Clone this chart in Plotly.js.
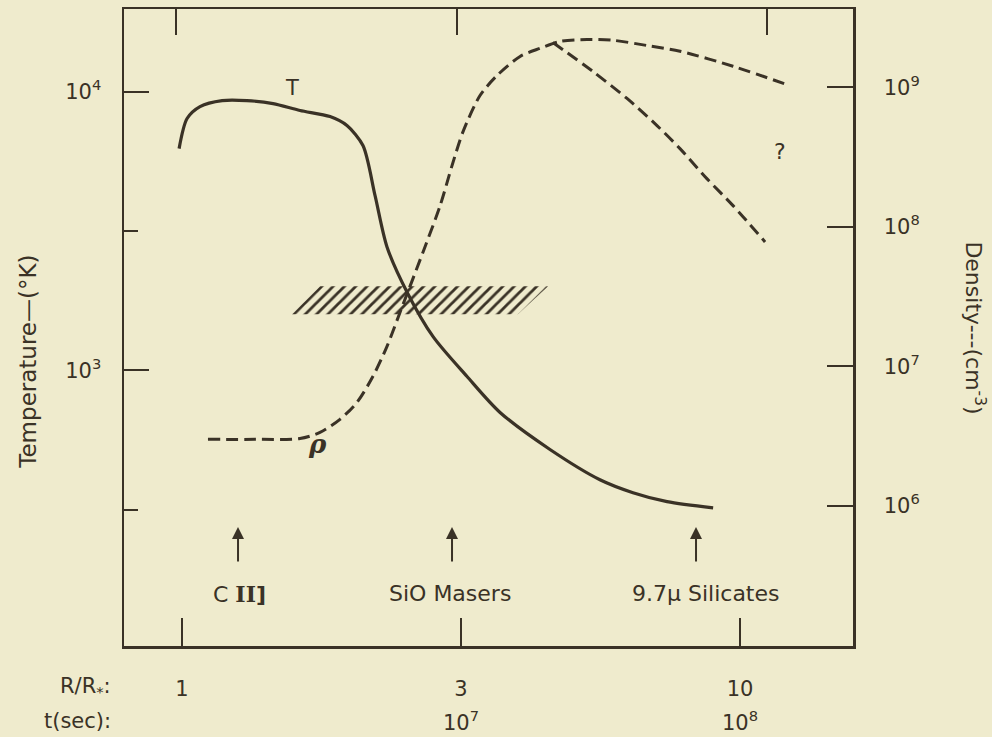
<!DOCTYPE html>
<html>
<head>
<meta charset="utf-8">
<script src="https://cdn.plot.ly/plotly-3.0.1.min.js"></script>
<style>
  html, body { margin: 0; padding: 0; background: #efebcd; }
  #chart { width: 992px; height: 737px; }
</style>
</head>
<body>
<div id="chart"></div>
<script>
// ---- Temperature curve T(R) (solid) ----
const tempR = [0.988, 1.021, 1.077, 1.18, 1.307, 1.456, 1.627, 1.842, 1.975, 2.11, 2.218, 2.33, 2.53, 2.818, 3.242, 3.715, 4.565, 5.61, 6.43, 7.40, 8.95];
const tempT = [6240, 8000, 8830, 9280, 9280, 9050, 8550, 8130, 7550, 6400, 4230, 2770, 1910, 1320, 950, 706, 520, 405, 364, 338, 321];

// ---- Density curve rho(R) (dashed), upper branch ----
const densR = [1.113, 1.352, 1.627, 1.767, 1.919, 2.059, 2.199, 2.33, 2.459, 2.704, 2.901, 3.047, 3.189, 3.42, 3.67, 4.035, 4.381, 4.758, 5.319, 5.922, 6.813, 7.806, 9.716, 12.29];
const densN = [2.99e6, 2.99e6, 3.03e6, 3.35e6, 4.16e6, 5.51e6, 8.47e6, 1.39e7, 2.44e7, 6.61e7, 1.42e8, 2.75e8, 4.82e8, 8.75e8, 1.22e9, 1.67e9, 1.91e9, 2.14e9, 2.21e9, 2.18e9, 2.00e9, 1.82e9, 1.42e9, 1.03e9];

// ---- Density, lower ("?") branch ----
const densLowR = [4.62, 5.453, 6.273, 7.1, 7.806, 8.73, 9.716, 11.09];
const densLowN = [2.10e9, 1.30e9, 8.34e8, 5.33e8, 3.64e8, 2.21e8, 1.42e8, 7.80e7];

// ---- Hatched band (temperature range) ----
const bandR = [1.574, 1.767, 4.528, 4.0, 1.574];
const bandT = [1590, 2004, 2004, 1590, 1590];

// ---- Axis ticks ----
const rTickVals = [1, 3.162, 10];
const rTickText = ['1', '3', '10'];
const tSecText = ['', '10<sup>7</sup>', '10<sup>8</sup>'];
const topTickVals = [0.975, 3.11, 11.2];
const tempTickVals = [1000, 10000];
const tempTickText = ['10<sup>3</sup>', '10<sup>4</sup>'];
const tempMinorVals = [316.2, 3162];
const densTickVals = [1e6, 1e7, 1e8, 1e9];
const densTickText = ['10<sup>6</sup>', '10<sup>7</sup>', '10<sup>8</sup>', '10<sup>9</sup>'];

// ---- Markers of features ----
const featR = [1.26, 3.047, 8.34];
const featLabelR = [1.27, 3.02, 8.66];
const featText = ['C <span style="font-family:\'DejaVu Serif\';font-weight:bold">II</span><b>]</b>', 'SiO Masers', '9.7\u03bc Silicates'];

const INK = '#3a3226';
const FONT = '"DejaVu Sans", "Noto Sans", sans-serif';

const traces = [
  { x: bandR, y: bandT, xaxis: 'x', yaxis: 'y', mode: 'lines', fill: 'toself',
    line: { width: 0, color: 'rgba(0,0,0,0)' }, fillcolor: 'rgba(0,0,0,0)',
    fillpattern: { shape: '/', size: 8, solidity: 0.35, fgcolor: INK, bgcolor: 'rgba(0,0,0,0)' },
    hoverinfo: 'skip', showlegend: false },
  { x: tempR, y: tempT, xaxis: 'x', yaxis: 'y', mode: 'lines',
    line: { color: INK, width: 3.2, shape: 'spline', smoothing: 0.8 }, showlegend: false },
  { x: densR, y: densN, xaxis: 'x', yaxis: 'y2', mode: 'lines',
    line: { color: INK, width: 3, dash: '12px,6px', shape: 'spline', smoothing: 0.8 }, showlegend: false },
  { x: densLowR, y: densLowN, xaxis: 'x', yaxis: 'y2', mode: 'lines',
    line: { color: INK, width: 3, dash: '12px,6px', shape: 'spline', smoothing: 0.8 }, showlegend: false },
  { x: [1], y: [1000], xaxis: 'x2', yaxis: 'y', mode: 'markers', marker: { opacity: 0 }, hoverinfo: 'skip', showlegend: false }
];

const annotations = [];
// Feature arrows and labels
featR.forEach((r, i) => {
  annotations.push({ x: Math.log10(r), y: 0.1868, xref: 'x', yref: 'paper', ax: 0, ay: 36, text: '',
    showarrow: true, arrowhead: 2, arrowsize: 1.2, arrowwidth: 2, arrowcolor: INK, standoff: 0 });
  annotations.push({ x: Math.log10(featLabelR[i]), y: 0.082, xref: 'x', yref: 'paper', text: featText[i],
    showarrow: false, xanchor: 'center', yanchor: 'middle', font: { size: 22, color: INK, family: FONT } });
});
// t(sec) row
rTickVals.forEach((r, i) => {
  if (tSecText[i]) annotations.push({ x: Math.log10(r), y: -0.117, xref: 'x', yref: 'paper', text: tSecText[i],
    showarrow: false, xanchor: 'center', yanchor: 'middle', font: { size: 21, color: INK, family: FONT } });
});
annotations.push(
  { x: -0.015, y: -0.064, xref: 'paper', yref: 'paper', text: 'R/R<sub>*</sub>:', showarrow: false,
    xanchor: 'right', yanchor: 'middle', font: { size: 21, color: INK, family: FONT } },
  { x: -0.015, y: -0.117, xref: 'paper', yref: 'paper', text: 't(sec):', showarrow: false,
    xanchor: 'right', yanchor: 'middle', font: { size: 21, color: INK, family: FONT } },
  { x: Math.log10(1.575), y: Math.log10(10260), xref: 'x', yref: 'y', text: 'T', showarrow: false,
    font: { size: 21, color: INK, family: FONT } },
  { x: 1.0717, y: 0.799, xref: 'x', yref: 'paper', text: '?', showarrow: false,
    font: { size: 22, color: INK, family: FONT } },
  { x: 0.242, y: 0.29, xref: 'x', yref: 'paper', text: '<b><i>\u03c1</i></b>', showarrow: false,
    font: { size: 26, color: INK, family: '"DejaVu Serif", serif' } },
  { x: -0.132, y: 0.446, xref: 'paper', yref: 'paper', text: 'Temperature\u2014(\u00b0K)', showarrow: false,
    textangle: -90, xanchor: 'center', yanchor: 'middle', font: { size: 23, color: INK, family: FONT } },
  { x: 1.167, y: 0.499, xref: 'paper', yref: 'paper', text: 'Density---(cm<sup>-3</sup>)', showarrow: false,
    textangle: 90, xanchor: 'center', yanchor: 'middle', font: { size: 22, color: INK, family: FONT } }
);

const axBase = { showgrid: false, zeroline: false, showline: true, linecolor: INK, linewidth: 2.5,
  ticks: 'inside', tickcolor: INK, tickwidth: 2, tickfont: { size: 21, color: INK, family: FONT } };

const layout = {
  width: 992, height: 737,
  margin: { l: 124, r: 139, t: 9, b: 91 },
  paper_bgcolor: '#efebcd', plot_bgcolor: '#efebcd',
  showlegend: false,
  font: { family: FONT, color: INK },
  xaxis: Object.assign({}, axBase, { type: 'log', range: [-0.104, 1.2025], tickmode: 'array',
    tickvals: rTickVals, ticktext: rTickText, ticklen: 28, ticklabelstandoff: 22 }),
  xaxis2: Object.assign({}, axBase, { type: 'log', range: [-0.104, 1.2025], overlaying: 'x', side: 'top',
    anchor: 'y', tickmode: 'array', tickvals: topTickVals, ticklen: 26, showticklabels: false }),
  yaxis: Object.assign({}, axBase, { type: 'log', range: [2.011, 4.296], tickmode: 'array',
    tickvals: tempTickVals, ticktext: tempTickText, ticklen: 25, ticklabelstandoff: 16,
    minor: { tickmode: 'array', tickvals: tempMinorVals, ticks: 'inside', ticklen: 14, tickwidth: 2, tickcolor: INK, showgrid: false } }),
  yaxis2: Object.assign({}, axBase, { type: 'log', range: [4.993, 9.563], overlaying: 'y', side: 'right',
    anchor: 'x', tickmode: 'array', tickvals: densTickVals, ticktext: densTickText, ticklen: 26, ticklabelstandoff: 24 }),
  annotations: annotations
};

Plotly.newPlot('chart', traces, layout, { staticPlot: true, displayModeBar: false });
</script>
</body>
</html>
